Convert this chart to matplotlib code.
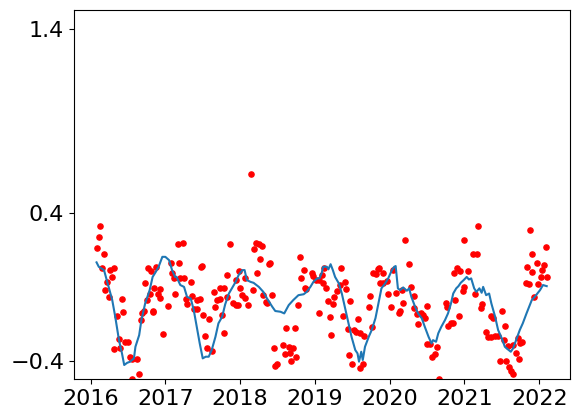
import matplotlib
matplotlib.use('Agg')
import matplotlib.pyplot as plt
import numpy as np

# scattered observations (decimal year, value)
obs_year = [
    2016.08, 2016.11, 2016.13, 2016.18, 2016.15, 2016.26, 2016.31, 2016.28, 2016.22, 2016.19,
    2016.24, 2016.42, 2016.44, 2016.36, 2016.38, 2016.32, 2016.40, 2016.46, 2016.50, 2016.53,
    2016.62, 2016.56, 2016.65, 2016.56, 2016.77, 2016.81, 2016.73, 2016.80, 2016.76, 2016.71,
    2016.69, 2016.68, 2016.83,
    2016.87, 2016.85, 2016.90, 2016.93, 2016.93, 2016.84, 2016.97, 2017.03, 2017.13, 2017.07,
    2017.18, 2017.17, 2017.23, 2017.09, 2017.11, 2017.20, 2017.25, 2017.34, 2017.48, 2017.49,
    2017.27, 2017.29, 2017.36, 2017.42, 2017.46, 2017.38, 2017.42, 2017.51, 2017.58, 2017.53,
    2017.56, 2017.62, 2017.65, 2017.69, 2017.73, 2017.66, 2017.76, 2017.78, 2017.73, 2017.79,
    2017.83, 2017.87, 2017.82,
    2017.90, 2017.94, 2017.97, 2017.95, 2017.98, 2018.00, 2018.03, 2018.06, 2018.11, 2018.07,
    2018.14, 2018.17, 2018.19, 2018.21, 2018.25, 2018.29, 2018.27, 2018.23, 2018.38, 2018.40,
    2018.31, 2018.34, 2018.36, 2018.43, 2018.45, 2018.47, 2018.49, 2018.58, 2018.62, 2018.65,
    2018.60, 2018.67, 2018.71, 2018.68, 2018.75, 2018.74, 2018.78, 2018.80, 2018.85, 2018.82,
    2018.87,
    2018.88, 2018.96, 2018.98, 2019.01, 2019.05, 2019.09, 2019.12, 2019.11, 2019.15, 2019.06,
    2019.17, 2019.24, 2019.20, 2019.22, 2019.26, 2019.29, 2019.33, 2019.35, 2019.40, 2019.41,
    2019.47, 2019.37, 2019.44, 2019.52, 2019.57, 2019.55, 2019.60, 2019.66, 2019.46, 2019.50,
    2019.60, 2019.64, 2019.72, 2019.74, 2019.77, 2019.78, 2019.82, 2019.85, 2019.87,
    2019.86, 2019.91, 2019.91, 2019.96, 2019.98, 2020.02, 2020.05, 2020.09, 2020.12, 2020.14,
    2020.16, 2020.18, 2020.21, 2020.26, 2020.29, 2020.33, 2020.32, 2020.36, 2020.38, 2020.42,
    2020.45, 2020.47, 2020.50, 2020.50, 2020.54, 2020.57, 2020.60, 2020.63, 2020.66, 2020.75,
    2020.76, 2020.78, 2020.82, 2020.85, 2020.86, 2020.87,
    2020.93, 2020.90, 2020.94, 2021.00, 2021.05, 2021.00, 2020.98, 2021.12, 2021.17, 2021.18,
    2021.14, 2021.22, 2021.24, 2021.36, 2021.38, 2021.50, 2021.29, 2021.32, 2021.35, 2021.41,
    2021.45, 2021.54, 2021.53, 2021.47, 2021.56, 2021.60, 2021.62, 2021.65, 2021.58, 2021.65,
    2021.69, 2021.73, 2021.71, 2021.74, 2021.77,
    2021.83, 2021.90, 2021.87, 2021.82, 2021.86, 2021.90, 2021.93, 2021.98, 2021.97, 2022.04,
    2022.07, 2022.02, 2022.11, 2022.09,
]
obs_value = [
    0.213, 0.268, 0.329, 0.176, 0.100, 0.091, 0.100, 0.051, 0.029, -0.018,
    -0.056, -0.068, -0.139, -0.159, -0.285, -0.339, -0.334, -0.300, -0.300, -0.382,
    -0.394, -0.394, -0.473, -0.499, 0.100, 0.085, 0.019, -0.041, -0.072, -0.131,
    -0.144, -0.180, -0.131,
    0.109, -0.005, -0.041, -0.014, -0.059, -0.135, -0.258, -0.103, -0.036, 0.127,
    0.127, 0.230, 0.239, 0.073, 0.046, 0.046, 0.046, 0.029, 0.109, 0.116,
    -0.068, -0.095, -0.050, -0.072, -0.068, -0.122, -0.122, -0.150, -0.177, -0.267,
    -0.334, -0.347, -0.030, -0.072, -0.068, -0.111, -0.153, -0.252, -0.008, -0.008,
    0.067, 0.230, -0.054,
    -0.090, -0.099, -0.099, 0.037, 0.085, -0.008, -0.045, -0.059, -0.100, 0.046,
    0.615, -0.018, 0.203, 0.239, 0.232, 0.221, 0.154, 0.078, 0.122, 0.127,
    -0.045, -0.081, -0.090, -0.045, -0.334, -0.429, -0.419, -0.316, -0.225, -0.328,
    -0.364, -0.361, -0.334, -0.402, -0.382, -0.225, -0.099, 0.163, 0.091, 0.046,
    -0.008,
    -0.014, 0.078, 0.058, 0.040, 0.040, 0.064, 0.105, 0.022, -0.005, -0.141,
    -0.077, -0.095, -0.166, -0.263, -0.057, -0.023, 0.008, 0.100, 0.029, -0.014,
    -0.079, -0.159, -0.231, -0.234, -0.177, -0.244, -0.249, -0.267, -0.370, -0.419,
    -0.442, -0.419, -0.108, -0.050, -0.217, 0.076, 0.069, 0.095, 0.019,
    0.100, 0.073, 0.022, 0.033, -0.036, -0.111, 0.091, -0.032, -0.144, -0.130,
    -0.018, -0.090, 0.257, 0.122, -0.003, -0.050, -0.117, -0.148, -0.204, -0.141,
    -0.153, -0.171, -0.104, -0.310, -0.310, -0.382, -0.364, -0.328, -0.498, -0.090,
    -0.108, -0.213, -0.195, -0.195, 0.073, -0.072,
    -0.159, 0.100, 0.085, 0.257, 0.085, -0.003, -0.021, 0.176, 0.176, 0.329,
    -0.036, -0.117, -0.095, -0.159, -0.168, -0.130, -0.244, -0.271, -0.271, -0.265,
    -0.265, -0.211, -0.289, -0.404, -0.404, -0.433, -0.457, -0.475, -0.321, -0.316,
    -0.357, -0.394, -0.280, -0.303, -0.298,
    0.109, 0.176, 0.311, 0.022, 0.013, 0.082, -0.054, 0.013, 0.131, 0.091,
    0.118, 0.051, 0.051, 0.217,
]

# smoothed curve (decimal year, value)
trend_year = [
    2016.08, 2016.11, 2016.18, 2016.21, 2016.24, 2016.29, 2016.33, 2016.38, 2016.42, 2016.45,
    2016.49, 2016.53, 2016.58, 2016.60, 2016.65, 2016.68, 2016.73, 2016.79, 2016.83, 2016.87,
    2016.91, 2016.96, 2017.00, 2017.05, 2017.09, 2017.13, 2017.15, 2017.20, 2017.25, 2017.29,
    2017.34, 2017.38, 2017.42, 2017.46, 2017.50, 2017.54, 2017.58, 2017.62, 2017.67, 2017.71,
    2017.76, 2017.80, 2017.85, 2017.89, 2017.94, 2017.98, 2018.03, 2018.06, 2018.09, 2018.14,
    2018.18, 2018.25, 2018.31, 2018.36, 2018.43, 2018.47, 2018.54, 2018.59, 2018.65, 2018.71,
    2018.78, 2018.85, 2018.89, 2018.94, 2018.98, 2019.03, 2019.06, 2019.09, 2019.11, 2019.16,
    2019.18, 2019.21, 2019.24, 2019.27, 2019.32, 2019.36, 2019.40, 2019.45, 2019.49, 2019.54,
    2019.57, 2019.59, 2019.62, 2019.64, 2019.67, 2019.72, 2019.76, 2019.81, 2019.85, 2019.89,
    2019.94, 2019.98, 2020.03, 2020.06, 2020.08, 2020.11, 2020.14, 2020.18, 2020.23, 2020.26,
    2020.29, 2020.34, 2020.38, 2020.43, 2020.47, 2020.52, 2020.56, 2020.58, 2020.62, 2020.65,
    2020.69, 2020.74, 2020.78, 2020.82, 2020.85, 2020.89, 2020.92, 2020.95, 2020.99, 2021.03,
    2021.06, 2021.09, 2021.13, 2021.16, 2021.20, 2021.23, 2021.25, 2021.29, 2021.33, 2021.36,
    2021.41, 2021.45, 2021.50, 2021.54, 2021.58, 2021.62, 2021.65, 2021.69, 2021.74, 2021.78,
    2021.83, 2021.90, 2021.94, 2022.01, 2022.05, 2022.10,
]
trend_value = [
    0.133, 0.109, 0.091, 0.046, 0.000, -0.072, -0.162, -0.289, -0.361, -0.424,
    -0.412, -0.406, -0.388, -0.325, -0.262, -0.180, -0.090, -0.018, 0.054, 0.080,
    0.109, 0.163, 0.163, 0.145, 0.091, 0.054, 0.054, 0.010, 0.000, -0.054,
    -0.063, -0.126, -0.217, -0.307, -0.388, -0.379, -0.379, -0.343, -0.271, -0.198,
    -0.162, -0.095, -0.036, -0.008, 0.027, 0.064, 0.091, 0.091, 0.037, 0.027,
    0.022, 0.000, -0.027, -0.063, -0.108, -0.131, -0.135, -0.144, -0.099, -0.072,
    -0.045, -0.040, -0.027, 0.000, 0.027, 0.046, 0.046, 0.073, 0.109, 0.109,
    0.095, 0.123, 0.091, 0.054, 0.019, -0.036, -0.108, -0.198, -0.271, -0.343,
    -0.361, -0.406, -0.352, -0.397, -0.325, -0.271, -0.234, -0.170, -0.090, -0.008,
    0.019, 0.046, 0.091, 0.109, 0.113, -0.008, -0.018, -0.003, -0.021, -0.008,
    -0.054, -0.108, -0.144, -0.171, -0.217, -0.271, -0.307, -0.289, -0.298, -0.252,
    -0.217, -0.180, -0.144, -0.090, -0.036, -0.008, 0.004, 0.022, 0.037, 0.054,
    0.040, 0.046, -0.008, -0.027, -0.008, -0.032, 0.000, -0.045, -0.036, -0.090,
    -0.162, -0.234, -0.280, -0.325, -0.339, -0.352, -0.334, -0.289, -0.234, -0.198,
    -0.144, -0.072, -0.054, -0.018, 0.010, 0.004,
]

year_ticks = [2016, 2017, 2018, 2019, 2020, 2021, 2022]
value_ticks = [-0.4, 0.4, 1.4]

fig = plt.figure(figsize=(5.79, 4.19), dpi=100)
ax = fig.add_axes([74 / 579, 40 / 419, 496 / 579, 368.5 / 419])
ax.scatter(obs_year, obs_value, c='r', s=14)
ax.plot(trend_year, trend_value, color='#1f77b4', linewidth=1.5)
ax.set_ylim(-0.5, 1.5)
ax.set_yticks(value_ticks)
ax.set_yticklabels(['\u22120.4', '0.4', '1.4'])
ax.set_xticks(year_ticks)
ax.set_xticklabels([str(y) for y in year_ticks])
ax.tick_params(labelsize=16)
fig.savefig('out.png', dpi=100)
plt.close(fig)
